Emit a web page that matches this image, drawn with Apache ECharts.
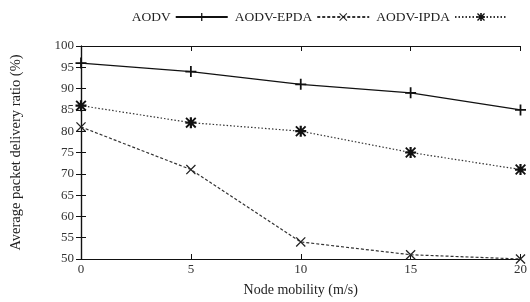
<!DOCTYPE html>
<html>
<head>
<meta charset="utf-8">
<script src="https://cdn.jsdelivr.net/npm/echarts@6/dist/echarts.min.js"></script>
<style>
  html, body { margin: 0; padding: 0; background: #fff; }
  #main { width: 530px; height: 302px; }
</style>
</head>
<body>
<div id="main"></div>
<script>
var speeds = [0, 5, 10, 15, 20];
var seriesNames = ['AODV', 'AODV-EPDA', 'AODV-IPDA'];
var aodv = [96, 94, 91, 89, 85];
var aodvEpda = [81, 71, 54, 51, 50];
var aodvIpda = [86, 82, 80, 75, 71];

// gnuplot-like point symbols
var plusPath = 'path://M0,4.2h10v1.6h-10z M4.2,0h1.6v10h-1.6z';
var crossPath = 'path://M0.9,0L10,9.1L9.1,10L0,0.9z M9.1,0L10,0.9L0.9,10L0,9.1z';
var starPath = 'path://M0,4h10v2h-10z M4,0h2v10h-2z M1.2,0L10,8.8L8.8,10L0,1.2z M8.8,0L10,1.2L1.2,10L0,8.8z';

function pairs(vals) {
    var res = [];
    for (var i = 0; i < speeds.length; i++) {
        res.push([speeds[i], vals[i]]);
    }
    return res;
}

var font = 'Liberation Serif';
var ink = '#222';

var dom = document.getElementById('main');
var myChart = echarts.init(dom);
var option = {
    animation: false,
    backgroundColor: '#fff',
    legend: {
        top: 5,
        right: 17,
        align: 'right',
        itemGap: 6,
        itemWidth: 52,
        itemHeight: 10,
        textStyle: { fontFamily: font, fontSize: 13.5, color: ink },
        data: seriesNames
    },
    grid: { left: 81, right: 9, top: 46, bottom: 35 },
    xAxis: [{
        type: 'value',
        min: 0, max: 20, interval: 5,
        name: 'Node mobility (m/s)',
        nameLocation: 'middle',
        nameGap: 24,
        nameTextStyle: { fontFamily: font, fontSize: 14, color: ink },
        axisLine: { lineStyle: { color: '#111', width: 1.2 } },
        axisTick: { inside: true, length: 5, lineStyle: { color: '#111' } },
        axisLabel: { fontFamily: font, fontSize: 13, color: '#333', margin: 4 },
        splitLine: { show: false }
    }, {
        type: 'value', position: 'top',
        min: 0, max: 20, interval: 5,
        axisLine: { show: true, lineStyle: { color: '#111', width: 1.2 } },
        axisTick: { inside: true, length: 5, lineStyle: { color: '#111' } },
        axisLabel: { show: false },
        splitLine: { show: false }
    }],
    yAxis: [{
        type: 'value',
        min: 50, max: 100, interval: 5,
        name: 'Average packet delivery ratio (%)',
        nameLocation: 'middle',
        nameGap: 57,
        nameTextStyle: { fontFamily: font, fontSize: 14.5, color: ink },
        axisLine: { show: true, lineStyle: { color: '#111', width: 1.2 } },
        axisTick: { show: true, inside: true, length: 5, lineStyle: { color: '#111' } },
        axisLabel: { fontFamily: font, fontSize: 13, color: '#333', margin: 7 },
        splitLine: { show: false }
    }, {
        type: 'value', position: 'right',
        min: 50, max: 100, interval: 5,
        axisLine: { show: true, lineStyle: { color: '#111', width: 1.2 } },
        axisTick: { show: true, inside: true, length: 5, lineStyle: { color: '#111' } },
        axisLabel: { show: false },
        splitLine: { show: false }
    }],
    series: [{
        name: seriesNames[0],
        type: 'line',
        data: pairs(aodv),
        symbol: plusPath,
        symbolSize: 11,
        color: '#111',
        lineStyle: { color: '#111', width: 1.3, type: 'solid' }
    }, {
        name: seriesNames[1],
        type: 'line',
        data: pairs(aodvEpda),
        symbol: crossPath,
        symbolSize: 10,
        color: '#222',
        lineStyle: { color: '#333', width: 1.2, type: [3, 2] }
    }, {
        name: seriesNames[2],
        type: 'line',
        data: pairs(aodvIpda),
        symbol: starPath,
        symbolSize: 11,
        color: '#111',
        lineStyle: { color: '#333', width: 1.2, type: [1.5, 2] }
    }]
};
myChart.setOption(option);
</script>
</body>
</html>
